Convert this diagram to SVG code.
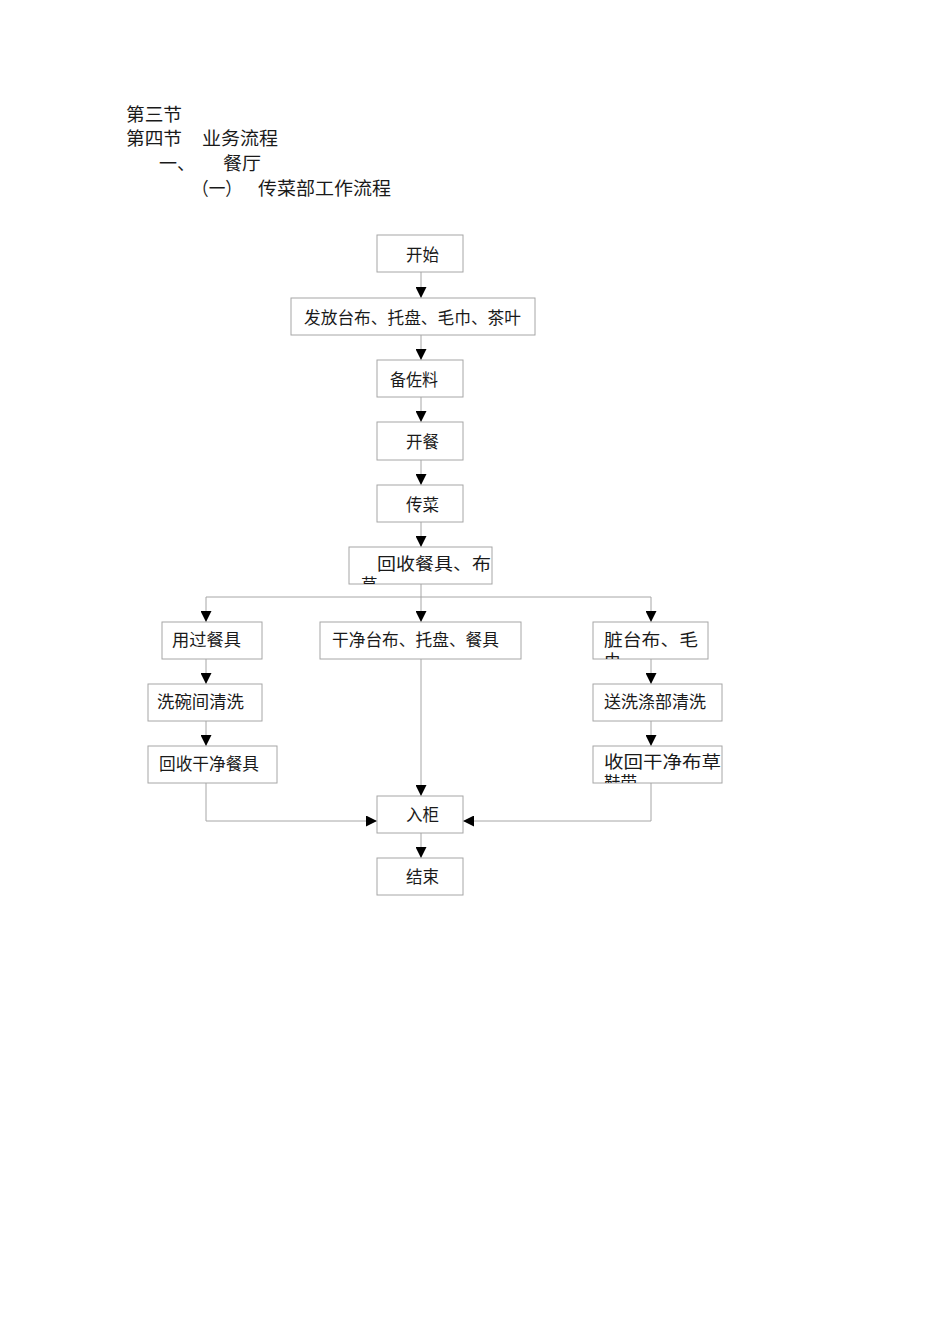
<svg xmlns="http://www.w3.org/2000/svg" width="950" height="1344" viewBox="0 0 950 1344">
<style>
text{font-family:"Noto Sans CJK SC","Noto Sans CJK JP",sans-serif;fill:#1a1a1a;}
.h{font-size:18px;}
.t{font-size:16.5px;}
.box{fill:#fff;stroke:#a6a6a6;stroke-width:1;}
.ln{fill:none;stroke:#a6a6a6;stroke-width:1;}
.ar{marker-end:url(#arr);}
</style>
<defs>
<marker id="arr" markerWidth="11" markerHeight="11" refX="11" refY="5.5" orient="auto" markerUnits="userSpaceOnUse"><path d="M0,0 L11,5.5 L0,11 z" fill="#000"/></marker>
<clipPath id="c1"><rect x="349" y="547" width="143" height="37"/></clipPath>
<clipPath id="c2"><rect x="593" y="622" width="115" height="37"/></clipPath>
<clipPath id="c3"><rect x="593" y="746" width="129" height="37"/></clipPath>
</defs>
<rect width="950" height="1344" fill="#fff"/>
<g id="header">
<text class="h" x="126" y="121" textLength="56" lengthAdjust="spacingAndGlyphs">第三节</text>
<text class="h" x="126" y="145" textLength="56" lengthAdjust="spacingAndGlyphs">第四节</text>
<text class="h" x="202" y="145" textLength="76" lengthAdjust="spacingAndGlyphs">业务流程</text>
<text class="h" x="159" y="170">一、</text>
<text class="h" x="223" y="170" textLength="38" lengthAdjust="spacingAndGlyphs">餐厅</text>
<text class="h" x="192" y="195" textLength="50" lengthAdjust="spacingAndGlyphs">（一）</text>
<text class="h" x="258" y="195" textLength="133" lengthAdjust="spacingAndGlyphs">传菜部工作流程</text>
</g>
<g id="connectors">
<line class="ln ar" x1="421" y1="272" x2="421" y2="298"/>
<line class="ln ar" x1="421" y1="335" x2="421" y2="360"/>
<line class="ln ar" x1="421" y1="397" x2="421" y2="422"/>
<line class="ln ar" x1="421" y1="460" x2="421" y2="485"/>
<line class="ln ar" x1="421" y1="522" x2="421" y2="547"/>
<line class="ln" x1="421" y1="584" x2="421" y2="597"/>
<line class="ln" x1="206" y1="597" x2="651" y2="597"/>
<line class="ln ar" x1="206" y1="597" x2="206" y2="622"/>
<line class="ln ar" x1="421" y1="597" x2="421" y2="622"/>
<line class="ln ar" x1="651" y1="597" x2="651" y2="622"/>
<line class="ln ar" x1="206" y1="659" x2="206" y2="684"/>
<line class="ln ar" x1="206" y1="721" x2="206" y2="746"/>
<line class="ln ar" x1="651" y1="659" x2="651" y2="684"/>
<line class="ln ar" x1="651" y1="721" x2="651" y2="746"/>
<polyline class="ln ar" points="206,783 206,821 377,821"/>
<line class="ln ar" x1="421" y1="659" x2="421" y2="796"/>
<polyline class="ln ar" points="651,783 651,821 463,821"/>
<line class="ln ar" x1="421" y1="833" x2="421" y2="858"/>
</g>
<g id="n-start"><rect class="box" x="377" y="235" width="86" height="37"/><text class="t" x="406" y="261" textLength="33" lengthAdjust="spacingAndGlyphs">开始</text></g>
<g id="n-issue"><rect class="box" x="291" y="298" width="244" height="37"/><text class="t" x="304" y="324" textLength="217" lengthAdjust="spacingAndGlyphs">发放台布、托盘、毛巾、茶叶</text></g>
<g id="n-prep"><rect class="box" x="377" y="360" width="86" height="37"/><text class="t" x="390" y="386" textLength="48" lengthAdjust="spacingAndGlyphs">备佐料</text></g>
<g id="n-open"><rect class="box" x="377" y="422" width="86" height="38"/><text class="t" x="406" y="448" textLength="33" lengthAdjust="spacingAndGlyphs">开餐</text></g>
<g id="n-serve"><rect class="box" x="377" y="485" width="86" height="37"/><text class="t" x="406" y="511" textLength="33" lengthAdjust="spacingAndGlyphs">传菜</text></g>
<g id="n-collect"><rect class="box" x="349" y="547" width="143" height="37"/><g clip-path="url(#c1)"><text class="t" x="377" y="570" textLength="114" lengthAdjust="spacingAndGlyphs">回收餐具、布</text><text class="t" x="361" y="591">草</text></g></g>
<g id="n-used"><rect class="box" x="162" y="622" width="100" height="37"/><text class="t" x="172" y="646" textLength="69" lengthAdjust="spacingAndGlyphs">用过餐具</text></g>
<g id="n-clean"><rect class="box" x="320" y="622" width="201" height="37"/><text class="t" x="332" y="646" textLength="167" lengthAdjust="spacingAndGlyphs">干净台布、托盘、餐具</text></g>
<g id="n-dirty"><rect class="box" x="593" y="622" width="115" height="37"/><g clip-path="url(#c2)"><text class="t" x="604" y="646" textLength="94" lengthAdjust="spacingAndGlyphs">脏台布、毛</text><text class="t" x="604" y="667">巾</text></g></g>
<g id="n-wash"><rect class="box" x="148" y="684" width="114" height="37"/><text class="t" x="157" y="708" textLength="87" lengthAdjust="spacingAndGlyphs">洗碗间清洗</text></g>
<g id="n-laundry"><rect class="box" x="593" y="684" width="129" height="37"/><text class="t" x="604" y="708" textLength="102" lengthAdjust="spacingAndGlyphs">送洗涤部清洗</text></g>
<g id="n-back-dish"><rect class="box" x="148" y="746" width="129" height="37"/><text class="t" x="159" y="770" textLength="100" lengthAdjust="spacingAndGlyphs">回收干净餐具</text></g>
<g id="n-back-linen"><rect class="box" x="593" y="746" width="129" height="37"/><g clip-path="url(#c3)"><text class="t" x="604" y="768" textLength="117" lengthAdjust="spacingAndGlyphs">收回干净布草</text><text class="t" x="604" y="789">鞋带</text></g></g>
<g id="n-store"><rect class="box" x="377" y="796" width="86" height="37"/><text class="t" x="406" y="821" textLength="33" lengthAdjust="spacingAndGlyphs">入柜</text></g>
<g id="n-end"><rect class="box" x="377" y="858" width="86" height="37"/><text class="t" x="406" y="883" textLength="33" lengthAdjust="spacingAndGlyphs">结束</text></g>
</svg>
